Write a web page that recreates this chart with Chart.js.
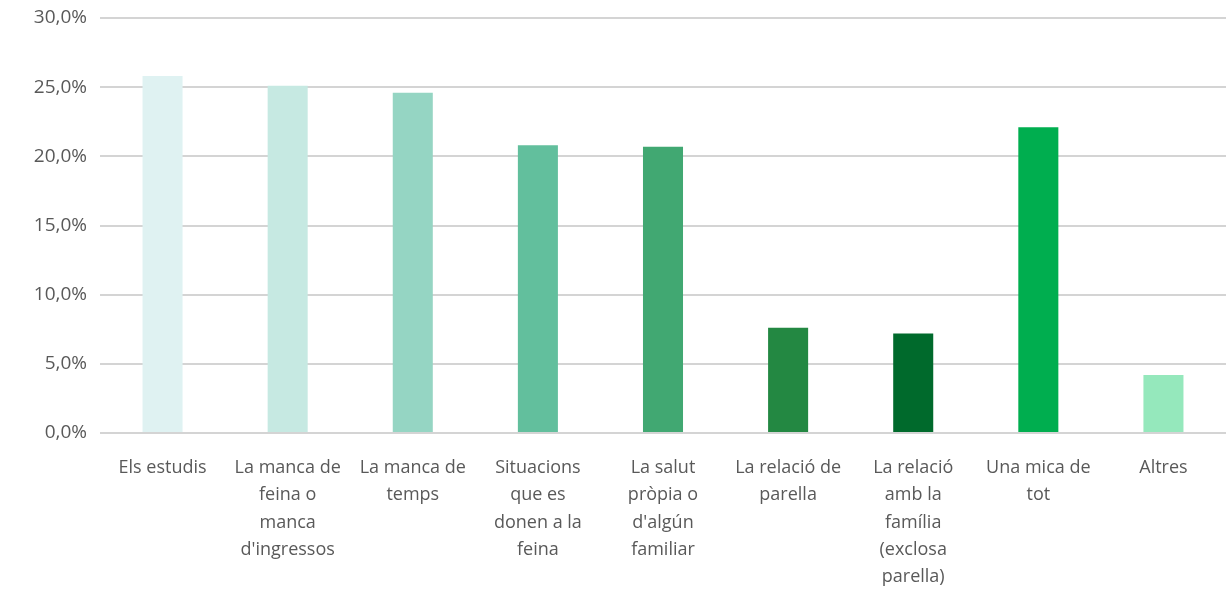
<!DOCTYPE html>
<html lang="ca">
<head>
  <meta charset="UTF-8" />
  <title>Motius</title>
  <script src="https://cdn.jsdelivr.net/npm/chart.js@4.4.0/dist/chart.umd.min.js"></script>
  <style>
    html, body   { margin:0; padding:0; background:#fff; }
    .wrap        { width:1229px; height:593px; position:relative; }
  </style>
</head>
<body>
  <div class="wrap"><canvas id="chart"></canvas></div>

  <script>
    /* ── data ── */
    const categories = [
      ['Els estudis'],
      ['La manca de', 'feina o', 'manca', "d'ingressos"],
      ['La manca de', 'temps'],
      ['Situacions', 'que es', 'donen a la', 'feina'],
      ['La salut', 'pròpia o', "d'algún", 'familiar'],
      ['La relació de', 'parella'],
      ['La relació', 'amb la', 'família', '(exclosa', 'parella)'],
      ['Una mica de', 'tot'],
      ['Altres']
    ];
    const values = [25.8, 25.1, 24.6, 20.8, 20.7, 7.6, 7.2, 22.1, 4.2];
    const barColors = ['#dff2f2', '#c6e9e2', '#95d5c3', '#62bf9d', '#41a872',
                       '#238842', '#006a2c', '#00ae4f', '#95e8bc'];
    const yTicks = [0, 5, 10, 15, 20, 25, 30];

    const fmt = v => v.toFixed(1).replace('.', ',') + '%';

    new Chart(document.getElementById('chart'), {
      type: 'bar',
      data: {
        labels: categories,
        datasets: [{
          data: values,
          backgroundColor: barColors,
          borderWidth: 0,
          categoryPercentage: 1,
          barPercentage: 0.32
        }]
      },
      options: {
        responsive: true,
        maintainAspectRatio: false,
        animation: false,
        layout: { padding: { top: 18, right: 3, left: 0, bottom: 0 } },
        plugins: { legend: { display: false }, tooltip: { enabled: false } },
        scales: {
          x: {
            afterFit: s => { s.height = 160; },
            grid: { display: false, drawTicks: false },
            border: { display: false },
            ticks: {
              color: '#595959',
              font: { family: 'Open Sans', size: 18, lineHeight: 1.52 },
              padding: 21,
              maxRotation: 0,
              autoSkip: false
            }
          },
          y: {
            min: 0,
            max: 30,
            afterBuildTicks: s => { s.ticks = yTicks.map(v => ({ value: v })); },
            afterFit: s => { s.width = 100; s.paddingTop = 0; s.paddingBottom = 0; },
            grid: { color: '#d4d4d4', lineWidth: 2, drawTicks: false },
            border: { display: false },
            ticks: {
              color: '#595959',
              font: { family: 'Open Sans', size: 19 },
              padding: 13,
              callback: v => fmt(v)
            }
          }
        }
      }
    });
  </script>
</body>
</html>
